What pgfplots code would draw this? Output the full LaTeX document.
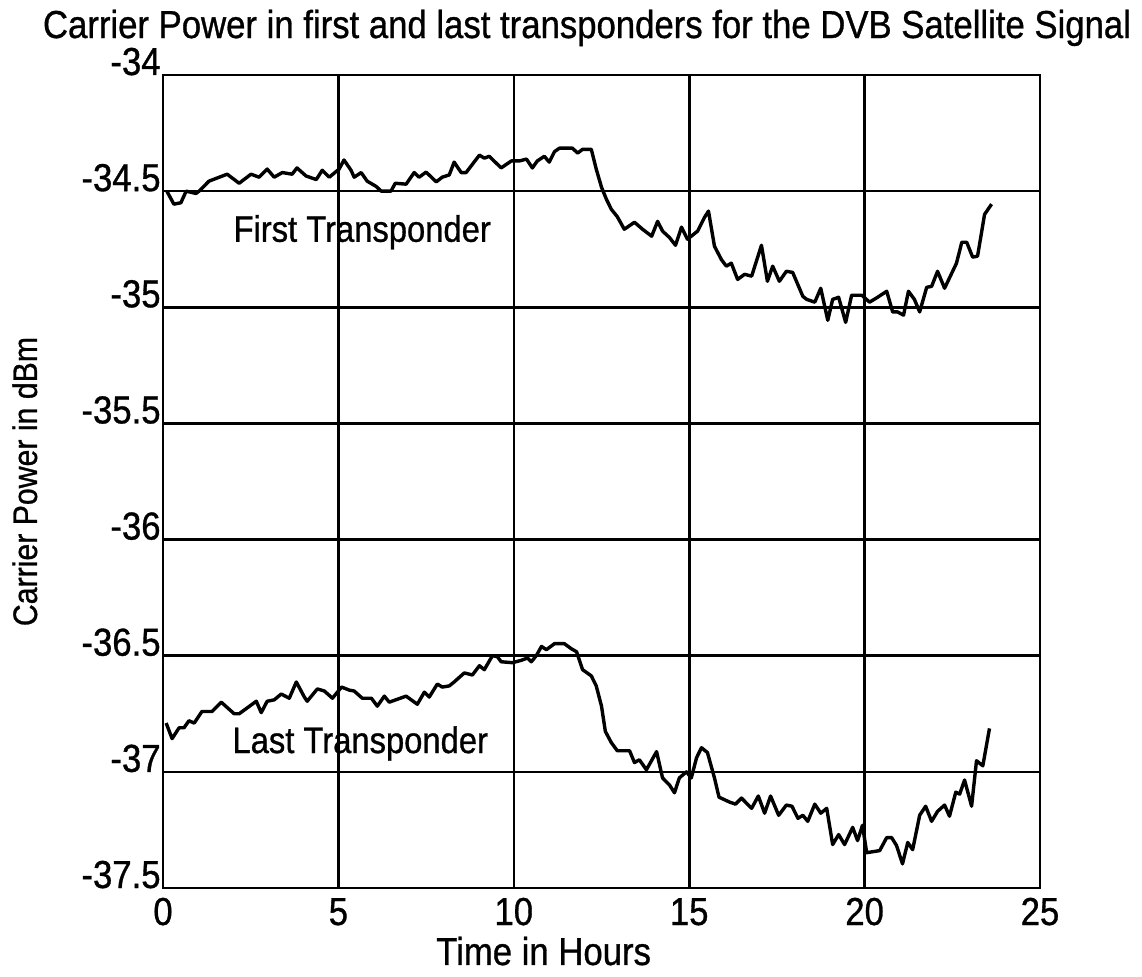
\documentclass[border=0pt]{standalone}
\usepackage{fontspec}
\setmainfont{Liberation Sans}[FakeStretch=0.89, FakeBold=0.8]
\usepackage{pgfplots}
\pgfplotsset{compat=1.18}
\newcommand{\bigf}{\fontsize{19.5}{22}\selectfont}
\begin{document}
\begin{tikzpicture}
\useasboundingbox (-81.5pt,-44pt) rectangle (489.5pt,444pt);
\begin{axis}[
  at={(0,0)}, anchor=south west,
  scale only axis, width=438.5pt, height=406.5pt,
  xmin=0, xmax=25, ymin=-37.5, ymax=-34,
  xtick={0,5,...,25}, ytick={-37.5,-37,...,-34},
  major tick length=0pt,
  grid=major, grid style={black, line width=1.3pt},
  axis line style={line width=1.3pt},
  /pgf/number format/assume math mode=true,
  /pgf/number format/fixed,
  yticklabel style={font=\bigf, anchor=base east, inner sep=0pt, xshift=-1pt},
  xticklabel style={font=\bigf, anchor=base, inner sep=0pt, yshift=-18.5pt},
  every axis title shift=0pt,
  title={Carrier Power in first and last transponders for the DVB Satellite Signal},
  title style={font=\bigf, anchor=base, inner sep=0pt, at={(axis description cs:0.4835,1.0455)}},
  xlabel={Time in Hours},
  xlabel style={font=\bigf, anchor=base, inner sep=0pt, at={(axis description cs:0.434,-0.0947)}},
  ylabel={Carrier Power in dBm},
  ylabel style={font=\fontsize{17}{20}\selectfont, rotate=0, anchor=base, inner sep=0pt, at={(axis description cs:-0.1437,0.5)}},
]
% first transponder
\addplot[black, line width=1.7pt, line join=round] coordinates {
(0.11,-34.50)(0.31,-34.556)(0.51,-34.55)(0.66,-34.50)(0.94,-34.51)(1.03,-34.50)(1.31,-34.457)(1.83,-34.427)
(2.17,-34.466)(2.51,-34.427)(2.74,-34.44)(2.97,-34.405)(3.17,-34.44)(3.4,-34.42)(3.68,-34.427)(3.82,-34.40)
(4.08,-34.435)(4.37,-34.45)(4.54,-34.41)(4.74,-34.44)(5.02,-34.405)(5.16,-34.366)(5.36,-34.41)(5.45,-34.44)
(5.65,-34.42)(5.82,-34.457)(6.08,-34.48)(6.22,-34.50)(6.5,-34.50)(6.62,-34.466)(6.93,-34.47)(7.16,-34.42)
(7.3,-34.44)(7.5,-34.418)(7.79,-34.46)(7.96,-34.44)(8.16,-34.43)(8.3,-34.375)(8.5,-34.42)(8.64,-34.42)
(9.02,-34.345)(9.16,-34.358)(9.3,-34.35)(9.64,-34.40)(9.93,-34.37)(10.16,-34.37)(10.36,-34.362)(10.53,-34.40)
(10.67,-34.37)(10.87,-34.35)(11.01,-34.375)(11.16,-34.33)(11.3,-34.315)(11.67,-34.315)(11.82,-34.336)(11.96,-34.32)
(12.21,-34.32)(12.35,-34.405)(12.5,-34.483)(12.64,-34.535)(12.78,-34.578)(12.95,-34.61)(13.15,-34.664)(13.44,-34.634)
(13.67,-34.664)(13.93,-34.694)(14.1,-34.63)(14.24,-34.672)(14.44,-34.70)(14.61,-34.733)(14.78,-34.655)(14.95,-34.707)
(15.24,-34.672)(15.44,-34.612)(15.55,-34.586)(15.72,-34.737)(15.92,-34.795)(16.06,-34.823)(16.2,-34.81)(16.38,-34.88)
(16.58,-34.858)(16.78,-34.866)(17.06,-34.733)(17.23,-34.888)(17.38,-34.823)(17.57,-34.888)(17.77,-34.845)(17.95,-34.85)
(18.24,-34.953)(18.35,-34.966)(18.58,-34.978)(18.75,-34.918)(18.95,-35.056)(19.09,-34.966)(19.26,-34.957)(19.46,-35.065)
(19.63,-34.948)(19.92,-34.948)(20.14,-34.978)(20.37,-34.957)(20.63,-34.931)(20.8,-35.02)(20.94,-35.02)(21.11,-35.034)
(21.25,-34.931)(21.42,-34.966)(21.57,-35.02)(21.77,-34.914)(21.91,-34.91)(22.08,-34.845)(22.28,-34.918)(22.62,-34.81)
(22.77,-34.72)(22.91,-34.72)(23.08,-34.784)(23.22,-34.78)(23.42,-34.6)(23.62,-34.556)
};
% last transponder
\addplot[black, line width=1.7pt, line join=round] coordinates {
(0.09,-36.79)(0.26,-36.857)(0.46,-36.81)(0.6,-36.81)(0.74,-36.78)(0.89,-36.79)(1.11,-36.74)(1.4,-36.74)
(1.66,-36.70)(2.03,-36.75)(2.17,-36.75)(2.66,-36.696)(2.8,-36.745)(2.97,-36.696)(3.17,-36.69)(3.37,-36.665)
(3.6,-36.683)(3.8,-36.613)(4.03,-36.678)(4.11,-36.696)(4.4,-36.643)(4.6,-36.652)(4.83,-36.683)(5.09,-36.635)
(5.31,-36.648)(5.45,-36.652)(5.68,-36.683)(5.94,-36.683)(6.11,-36.717)(6.31,-36.674)(6.45,-36.70)(6.93,-36.674)
(7.25,-36.709)(7.45,-36.657)(7.59,-36.678)(7.82,-36.622)(7.96,-36.635)(8.16,-36.63)(8.3,-36.613)(8.59,-36.574)
(8.82,-36.583)(9.02,-36.543)(9.16,-36.56)(9.39,-36.50)(9.53,-36.504)(9.64,-36.526)(9.96,-36.53)(10.21,-36.52)
(10.39,-36.51)(10.5,-36.526)(10.64,-36.50)(10.79,-36.46)(10.93,-36.474)(11.16,-36.448)(11.44,-36.448)(11.64,-36.47)
(11.79,-36.483)(11.96,-36.56)(12.21,-36.587)(12.35,-36.63)(12.5,-36.717)(12.61,-36.826)(12.78,-36.874)(12.95,-36.909)
(13.3,-36.909)(13.44,-36.96)(13.58,-36.948)(13.78,-36.991)(14.07,-36.913)(14.24,-37.026)(14.44,-37.057)(14.58,-37.09)
(14.72,-37.026)(14.92,-37.0)(15.06,-37.026)(15.21,-36.939)(15.35,-36.896)(15.52,-36.917)(15.72,-37.026)(15.85,-37.109)
(16.15,-37.13)(16.32,-37.139)(16.49,-37.113)(16.78,-37.157)(16.97,-37.104)(17.15,-37.178)(17.32,-37.104)(17.55,-37.187)
(17.77,-37.143)(17.93,-37.148)(18.1,-37.2)(18.24,-37.187)(18.38,-37.213)(18.58,-37.139)(18.75,-37.178)(18.92,-37.157)
(19.09,-37.313)(19.26,-37.27)(19.43,-37.313)(19.66,-37.239)(19.8,-37.296)(19.94,-37.23)(20.06,-37.348)(20.43,-37.339)
(20.63,-37.283)(20.77,-37.283)(20.91,-37.317)(21.08,-37.396)(21.23,-37.304)(21.37,-37.335)(21.57,-37.187)(21.74,-37.148)
(21.91,-37.213)(22.08,-37.17)(22.28,-37.143)(22.42,-37.191)(22.6,-37.087)(22.71,-37.096)(22.85,-37.035)(23.05,-37.148)
(23.19,-36.952)(23.37,-36.974)(23.56,-36.813)
};
\node[font=\fontsize{18.4}{21}\selectfont, anchor=west, inner sep=0pt] at (axis cs:2.0,-34.677) {First Transponder};
\node[font=\fontsize{18.4}{21}\selectfont, anchor=west, inner sep=0pt] at (axis cs:1.97,-36.878) {Last Transponder};
\end{axis}
\end{tikzpicture}
\end{document}
